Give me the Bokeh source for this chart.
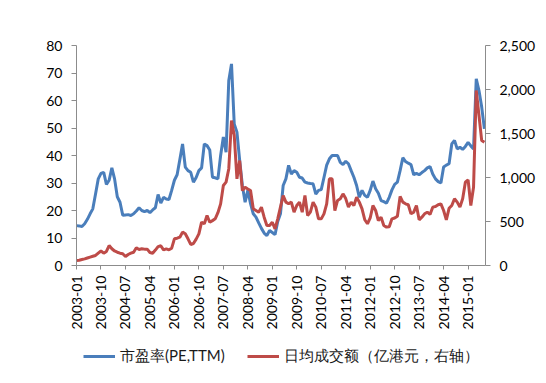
import math
import pandas as pd
from bokeh.plotting import figure
from bokeh.layouts import column
from bokeh.models import (Range1d, LinearAxis, FixedTicker, NumeralTickFormatter,
                          Legend, LegendItem, ColumnDataSource)
from bokeh.embed import file_html
from bokeh.resources import INLINE

# ---- data (monthly, 2003-01 .. 2015-07) ----
months = [d.strftime("%Y-%m") for d in pd.date_range("2003-01-01", periods=151, freq="MS")]

pe_ttm = [
    14.5, 14.4, 14.2, 15.2, 16.8, 18.8, 20.6, 26.0, 31.5, 33.5,
    33.9, 29.5, 31.0, 35.5, 31.5, 25.0, 23.0, 18.3, 18.4, 18.5,
    18.2, 18.8, 19.8, 21.0, 20.0, 19.6, 20.0, 19.2, 20.2, 21.0,
    25.8, 22.7, 24.8, 24.2, 24.0, 27.3, 31.0, 33.0, 38.5, 44.2,
    35.8, 34.5, 33.9, 30.3, 32.0, 34.5, 35.5, 44.2, 43.6, 42.0,
    32.1, 31.9, 31.5, 40.0, 46.7, 41.2, 67.3, 73.3, 51.5, 48.5,
    38.2, 29.0, 23.0, 27.3, 22.5, 18.8, 17.6, 15.5, 13.5, 11.8,
    10.9, 12.7, 12.0, 11.2, 16.0, 18.8, 29.1, 31.5, 36.4, 33.3,
    34.5, 33.9, 32.1, 31.8, 30.3, 30.0, 29.8, 29.7, 26.0, 27.3,
    27.6, 32.0, 36.5, 38.8, 40.0, 40.0, 40.0, 37.5, 36.7, 37.9,
    37.0, 34.5, 32.1, 29.1, 24.8, 27.3, 25.5, 24.8, 27.3, 30.7,
    27.9, 26.3, 23.6, 23.2, 22.7, 24.8, 27.5, 29.5, 30.3, 34.5,
    39.2, 37.8, 37.2, 36.7, 33.0, 33.5, 33.0, 33.8, 34.5, 35.5,
    36.0, 33.3, 31.5, 30.5, 30.0, 35.8, 36.5, 37.0, 44.2, 45.5,
    42.4, 43.0, 42.2, 43.3, 44.8, 43.5, 42.4, 67.9, 63.6, 57.6,
    49.7,
]

turnover = [
    57, 60, 68, 75, 85, 95, 105, 114, 140, 165,
    140, 160, 227, 190, 165, 151, 140, 133, 102, 125,
    140, 151, 201, 182, 190, 186, 186, 148, 140, 175,
    215, 224, 178, 190, 178, 197, 303, 310, 322, 379,
    360, 303, 239, 250, 300, 360, 492, 474, 568, 492,
    510, 530, 600, 700, 909, 947, 1100, 1648, 1480, 985,
    1193, 852, 890, 870, 852, 644, 625, 606, 663, 549,
    455, 455, 492, 417, 530, 663, 795, 720, 701, 720,
    606, 682, 720, 606, 795, 568, 606, 720, 663, 530,
    530, 587, 701, 985, 985, 625, 739, 758, 814, 760,
    663, 720, 682, 776, 720, 644, 520, 474, 540, 682,
    625, 511, 549, 455, 436, 440, 530, 540, 560, 784,
    720, 701, 690, 587, 606, 682, 519, 549, 587, 606,
    580, 663, 670, 690, 701, 625, 519, 650, 682, 758,
    720, 663, 758, 947, 974, 682, 890, 1989, 1705, 1420,
    1400,
]

tick_step = 9
tick_labels = [months[i] for i in range(0, 145, tick_step)]
left_ticks = [0, 10, 20, 30, 40, 50, 60, 70, 80]
right_ticks = [0, 500, 1000, 1500, 2000, 2500]
series_names = ["市盈率(PE,TTM)", "日均成交额（亿港元，右轴）"]

BLUE = "#4A7EBB"
RED = "#BE4B48"

# ---- main chart ----
idx = list(range(len(months)))
src = ColumnDataSource(dict(x=idx, pe=pe_ttm, vol=turnover, month=months))

p = figure(width=546, height=337, output_backend="svg", toolbar_location=None,
           x_range=Range1d(0, 150.4), y_range=Range1d(0, 80),
           min_border_left=76, min_border_right=61, min_border_top=45,
           min_border_bottom=72)
p.extra_y_ranges = {"vol": Range1d(0, 2500)}
p.xgrid.visible = False
p.ygrid.visible = False
p.outline_line_color = None
p.background_fill_color = "white"
p.border_fill_color = "white"

r1 = p.line("x", "pe", source=src, line_color=BLUE, line_width=3)
r2 = p.line("x", "vol", source=src, line_color=RED, line_width=3, y_range_name="vol")

right = LinearAxis(y_range_name="vol")
p.add_layout(right, "right")

FONT = "Lato"
AX = "#8C8C8C"
for ax in [p.xaxis[0], p.yaxis[0], right]:
    ax.axis_line_color = AX
    ax.major_tick_line_color = AX
    ax.minor_tick_line_color = None
    ax.major_tick_in = 0
    ax.major_tick_out = 5
    ax.major_label_text_font = FONT
    ax.major_label_text_font_size = "14px"
    ax.major_label_text_color = "#000000"
    ax.major_label_standoff = 9

p.yaxis[0].ticker = FixedTicker(ticks=left_ticks)
right.ticker = FixedTicker(ticks=right_ticks)
right.formatter = NumeralTickFormatter(format="0,0")

xa = p.xaxis[0]
xa.ticker = FixedTicker(ticks=list(range(0, 145, tick_step)))
xa.major_label_overrides = {i * tick_step: lab for i, lab in enumerate(tick_labels)}
xa.major_label_orientation = math.pi / 2
xa.major_tick_out = 4
xa.major_label_standoff = 6

# ---- legend strip under the chart (its frame is aligned with the chart's) ----
lf = figure(width=546, height=46, output_backend="svg", toolbar_location=None,
            x_range=Range1d(0, 1), y_range=Range1d(0, 1),
            x_axis_location=None, y_axis_location=None,
            min_border=0, min_border_left=0, min_border_right=0,
            min_border_top=0, min_border_bottom=0)
lf.xgrid.visible = False
lf.ygrid.visible = False
lf.outline_line_color = None
lf.background_fill_color = "white"
lf.border_fill_color = "white"
# same series; every value lies above this strip's 0..1 range, so only the legend keys show
l1 = lf.line("x", "pe", source=src, line_color=BLUE, line_width=3)
l2 = lf.line("x", "vol", source=src, line_color=RED, line_width=3)

legend = Legend(items=[LegendItem(label=series_names[0], renderers=[l1]),
                       LegendItem(label=series_names[1], renderers=[l2])],
                orientation="horizontal", location=(7, 17))
legend.border_line_color = None
legend.background_fill_alpha = 0
legend.padding = 0
legend.margin = 0
legend.spacing = 22
legend.glyph_width = 32
legend.glyph_height = 16
legend.label_height = 16
legend.label_standoff = 5
legend.label_text_font = "Lato"
legend.label_text_font_size = "15px"
legend.label_text_color = "#1a1a1a"
lf.add_layout(legend, "center")

layout = column(p, lf, spacing=0)
open("out.html", "w").write(file_html(layout, INLINE))
